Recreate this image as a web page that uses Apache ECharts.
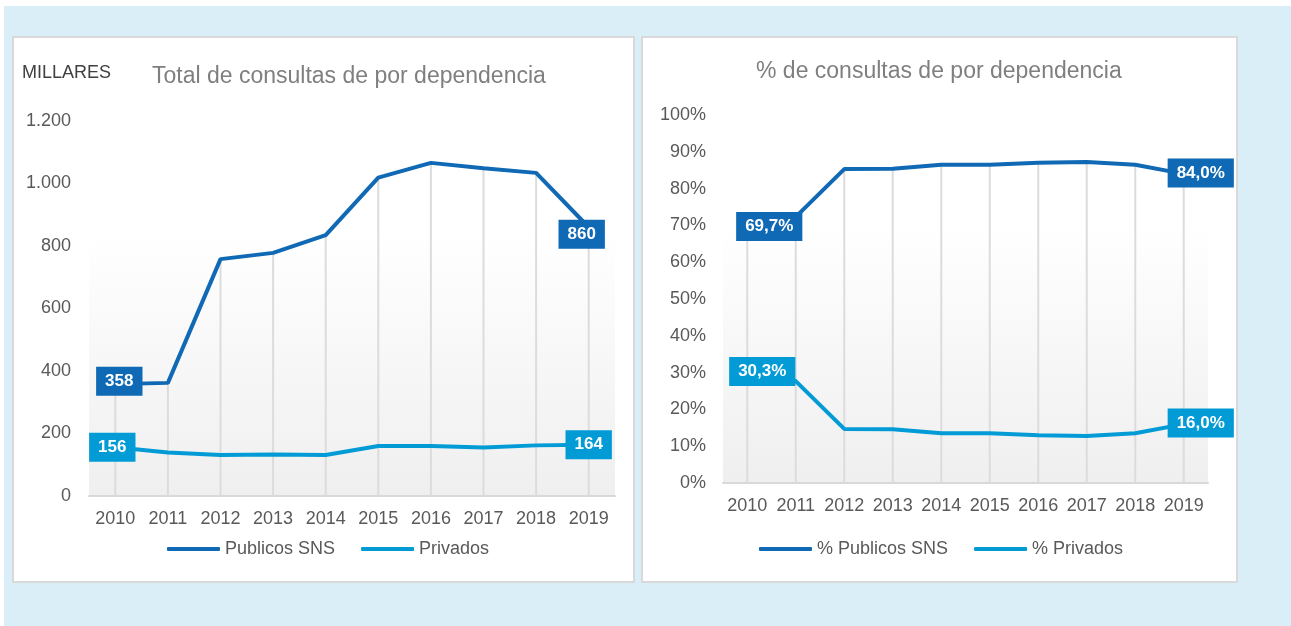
<!DOCTYPE html>
<html>
<head>
<meta charset="utf-8">
<script src="https://cdn.jsdelivr.net/npm/echarts@6/dist/echarts.min.js"></script>
<style>
    html, body { margin: 0; padding: 0; background: #fff; }
    #main { width: 1291px; height: 626px; }
</style>
</head>
<body>
<div id="main"></div>
<script>
    // datos
    var years = ['2010', '2011', '2012', '2013', '2014', '2015', '2016', '2017', '2018', '2019'];
    var publicosSNS = [358, 362, 758, 778, 835, 1019, 1066, 1049, 1034, 860];
    var privados = [156, 139, 131, 133, 131, 160, 160, 155, 162, 164];
    var pctPublicos = [69.7, 72.3, 85.3, 85.4, 86.5, 86.5, 87.0, 87.2, 86.5, 84.0];
    var pctPrivados = [30.3, 27.7, 14.7, 14.6, 13.5, 13.5, 13.0, 12.8, 13.5, 16.0];
    var leftTicks = ['0', '200', '400', '600', '800', '1.000', '1.200'];
    var rightTicks = ['0%', '10%', '20%', '30%', '40%', '50%', '60%', '70%', '80%', '90%', '100%'];

    var darkBlue = '#0f69b4';
    var lightBlue = '#029bd6';
    var font = "'Liberation Sans', Arial, sans-serif";

    // desplazamiento de las etiquetas (primera / ultima)
    var labelOffsets = {
        publicos: [[4, -3], [-7, 7]],
        privados: [[-3, 0], [0, 0]],
        pctPublicos: [[22, 0], [17, -1]],
        pctPrivados: [[15, 0], [17, -1]]
    };

    function withEndLabels(values, color, offsets, fmt) {
        var last = values.length - 1;
        return values.map(function (v, i) {
            if (i !== 0 && i !== last) return v;
            return {
                value: v,
                label: {
                    show: true,
                    position: 'inside',
                    offset: i === 0 ? offsets[0] : offsets[1],
                    formatter: function (p) { return fmt(p.value); },
                    backgroundColor: color,
                    color: '#fff',
                    fontFamily: font,
                    fontWeight: 'bold',
                    fontSize: 17,
                    lineHeight: 17,
                    padding: [6, 9]
                }
            };
        });
    }

    function plotBg() {
        return new echarts.graphic.LinearGradient(0, 0, 0, 1, [
            {offset: 0, color: '#ffffff'},
            {offset: 0.3, color: '#ffffff'},
            {offset: 1, color: '#efefef'}
        ]);
    }

    function catAxis(gridIndex, margin) {
        return {
            type: 'category',
            gridIndex: gridIndex,
            data: years,
            boundaryGap: true,
            axisTick: {show: false},
            axisLine: {lineStyle: {color: '#d9d9d9', width: 2}},
            axisLabel: {color: '#595959', fontSize: 18, fontFamily: font, margin: margin, interval: 0},
            splitLine: {show: false}
        };
    }

    var numFmt = function (v) { return String(v); };
    var pctFmt = function (v) { return v.toFixed(1).replace('.', ',') + '%'; };

    var chart = echarts.init(document.getElementById('main'));
    var option = {
        backgroundColor: '#ffffff',
        animation: false,
        graphic: [
            {type: 'rect', z: -100, shape: {x: 4, y: 6, width: 1287, height: 620}, style: {fill: '#daeef7'}},
            {type: 'rect', z: -99, shape: {x: 13, y: 37, width: 621, height: 545}, style: {fill: '#ffffff', stroke: '#d9d9d9', lineWidth: 2}},
            {type: 'rect', z: -99, shape: {x: 642, y: 37, width: 595, height: 545}, style: {fill: '#ffffff', stroke: '#d9d9d9', lineWidth: 2}}
        ],
        title: [
            {
                text: 'Total de consultas de por dependencia',
                left: 152, top: 65, padding: 0,
                textStyle: {color: '#7f7f7f', fontSize: 23, fontWeight: 'normal', fontFamily: font}
            },
            {
                text: 'MILLARES',
                left: 22, top: 64, padding: 0,
                textStyle: {color: '#404040', fontSize: 18, fontWeight: 'normal', fontFamily: font}
            },
            {
                text: '% de consultas de por dependencia',
                left: 756, top: 60, padding: 0,
                textStyle: {color: '#7f7f7f', fontSize: 23, fontWeight: 'normal', fontFamily: font}
            }
        ],
        legend: [
            {
                data: ['Publicos SNS', 'Privados'],
                left: 167, top: 540, padding: 0,
                icon: 'roundRect', itemWidth: 53, itemHeight: 4, itemGap: 26,
                textStyle: {color: '#595959', fontSize: 18, fontFamily: font}
            },
            {
                data: ['% Publicos SNS', '% Privados'],
                left: 759, top: 540, padding: 0,
                icon: 'roundRect', itemWidth: 53, itemHeight: 4, itemGap: 26,
                textStyle: {color: '#595959', fontSize: 18, fontFamily: font}
            }
        ],
        grid: [
            {left: 89, right: 676, top: 121, bottom: 130, show: true, borderWidth: 0, backgroundColor: plotBg(), outerBoundsMode: 'none'},
            {left: 723, right: 83, top: 115, bottom: 143, show: true, borderWidth: 0, backgroundColor: plotBg(), outerBoundsMode: 'none'}
        ],
        xAxis: [catAxis(0, 14), catAxis(1, 14)],
        yAxis: [
            {
                type: 'value', gridIndex: 0, min: 0, max: 1200, interval: 200,
                axisLine: {show: false}, axisTick: {show: false}, splitLine: {show: false},
                axisLabel: {
                    color: '#595959', fontSize: 18, fontFamily: font, margin: 18,
                    formatter: function (v) { return leftTicks[v / 200]; }
                }
            },
            {
                type: 'value', gridIndex: 1, min: 0, max: 100, interval: 10,
                axisLine: {show: false}, axisTick: {show: false}, splitLine: {show: false},
                axisLabel: {
                    color: '#595959', fontSize: 18, fontFamily: font, margin: 17,
                    formatter: function (v) { return rightTicks[Math.round(v / 10)]; }
                }
            }
        ],
        series: [
            // lineas de proyeccion
            {
                name: 'drop1', type: 'bar', xAxisIndex: 0, yAxisIndex: 0,
                data: publicosSNS, barWidth: 2, silent: true,
                itemStyle: {color: '#dcdcdc'}
            },
            {
                name: 'drop2', type: 'bar', xAxisIndex: 1, yAxisIndex: 1,
                data: pctPublicos, barWidth: 2, silent: true,
                itemStyle: {color: '#dcdcdc'}
            },
            {
                name: 'Publicos SNS', type: 'line', xAxisIndex: 0, yAxisIndex: 0,
                data: withEndLabels(publicosSNS, darkBlue, labelOffsets.publicos, numFmt),
                symbol: 'circle', symbolSize: 1, z: 5,
                itemStyle: {color: darkBlue},
                lineStyle: {color: darkBlue, width: 4}
            },
            {
                name: 'Privados', type: 'line', xAxisIndex: 0, yAxisIndex: 0,
                data: withEndLabels(privados, lightBlue, labelOffsets.privados, numFmt),
                symbol: 'circle', symbolSize: 1, z: 5,
                itemStyle: {color: lightBlue},
                lineStyle: {color: lightBlue, width: 4}
            },
            {
                name: '% Publicos SNS', type: 'line', xAxisIndex: 1, yAxisIndex: 1,
                data: withEndLabels(pctPublicos, darkBlue, labelOffsets.pctPublicos, pctFmt),
                symbol: 'circle', symbolSize: 1, z: 5,
                itemStyle: {color: darkBlue},
                lineStyle: {color: darkBlue, width: 4}
            },
            {
                name: '% Privados', type: 'line', xAxisIndex: 1, yAxisIndex: 1,
                data: withEndLabels(pctPrivados, lightBlue, labelOffsets.pctPrivados, pctFmt),
                symbol: 'circle', symbolSize: 1, z: 5,
                itemStyle: {color: lightBlue},
                lineStyle: {color: lightBlue, width: 4}
            }
        ]
    };
    chart.setOption(option);
</script>
</body>
</html>
